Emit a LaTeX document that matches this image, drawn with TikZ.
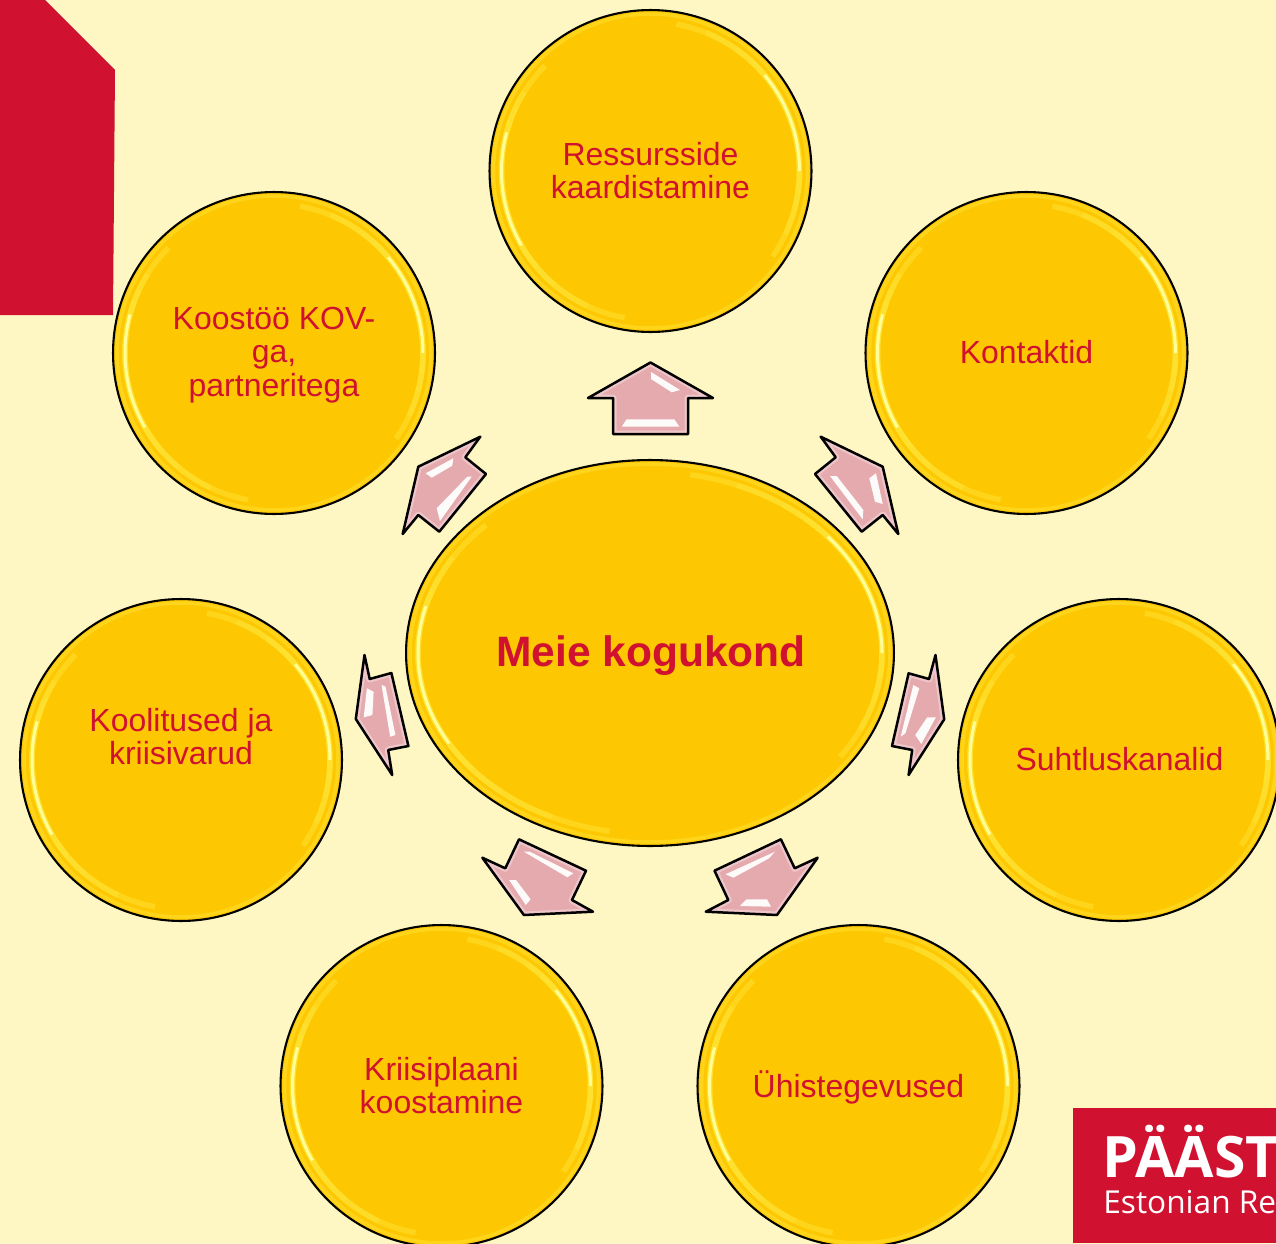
\documentclass[tikz,border=0pt]{standalone}
\usepackage{fontspec}
\setmainfont{Liberation Sans}
\newfontfamily\logofont{Open Sans}
\usepackage{tikz}
\usetikzlibrary{shapes.geometric}
\definecolor{page_c}{RGB}{255,247,195}
\definecolor{ball_c}{RGB}{253,200,2}
\definecolor{rim_c}{RGB}{255,226,50}
\definecolor{shine_c}{RGB}{255,254,150}
\definecolor{red_c}{RGB}{208,17,47}
\definecolor{tip_c}{RGB}{229,170,174}
\definecolor{tipedge_c}{RGB}{245,215,218}
% rim light of a ball: node, x radius, y radius (in px)
\newcommand{\rimlight}[3]{
	\draw[rimband] (#1.center) ellipse ({#2-4} and {#3-4});
	\foreach \from/\to/\look in {100/225/rimglow, 115/212/rimglow, 130/205/rimglow, 140/200/rimglow, 150/195/rimshine, -80/35/rimglow, -68/25/rimglow, -55/15/rimglow, -48/8/rimglow, -40/0/rimshine} {
		\draw[\look] (#1.center) ++(\from:{#2-12} and {#3-12}) arc[start angle=\from,end angle=\to,x radius=#2-12,y radius=#3-12];
	}
}
% block arrow with a pale inner edge: closed path
\newcommand{\blockarrow}[1]{
	\fill[tip_c] #1;
	\begin{scope}
		\clip #1;
		\draw[tipedge] #1;
	\end{scope}
	\draw[tip] #1;
}
\begin{document}
\begin{tikzpicture}[
			x=0.02cm, y=-0.02cm,
			ball/.style = {circle, draw=black, fill=ball_c, line width=0.042cm, minimum size=6.44cm, inner sep=0pt},
			ballmid/.style = {ball, ellipse, minimum width=9.76cm, minimum height=7.72cm},
			balltext/.style = {text=red_c, align=center, font=\fontsize{18.2}{19}\selectfont},
			midtext/.style = {text=red_c, font=\fontsize{24.2}{26}\selectfont\bfseries},
			tip/.style = {draw=black, line width=0.05cm, line join=round},
			tipedge/.style = {draw=tipedge_c, line width=0.14cm, line join=round, opacity=0.6},
			gleam/.style = {fill=white, opacity=0.95},
			rimband/.style = {draw=rim_c, line width=0.07cm, opacity=0.5},
			rimglow/.style = {draw=rim_c, line width=0.11cm, opacity=0.5},
			rimshine/.style = {draw=shine_c, line width=0.06cm},
			]
			\clip (0,0) rectangle (1276,1244);
			\fill[page_c] (0,0) rectangle (1276,1244);
			% corners
			\fill[red_c] (0,0) -- (45,0) -- (115,70) -- (113,315) -- (0,315) -- cycle;
			\fill[red_c] (1073,1108) rectangle (1276,1243);
			\node[anchor=base west, inner sep=0pt, text=white, font=\logofont\fontsize{32.5}{32.5}\selectfont\bfseries] (logo1) at (1102,1177) {PÄÄST};
			\node[anchor=base west, inner sep=0pt, text=white, font=\logofont\fontsize{18}{18}\selectfont] (logo2) at (1103,1213) {Estonian Re};
			% balls
			\node[ballmid] (kogukond) at (650,653) {};
			\node[ball] (ressursid) at (650.5,171) {};
			\node[ball] (kontaktid) at (1026.5,353) {};
			\node[ball] (suhtlus) at (1119,760) {};
			\node[ball] (yhistegevus) at (858.5,1086) {};
			\node[ball] (kriisiplaan) at (441.5,1086) {};
			\node[ball] (koolitused) at (181,760) {};
			\node[ball] (koostoo) at (274,353) {};
			% rims
			\rimlight{kogukond}{244}{193}
			\rimlight{ressursid}{161}{161}
			\rimlight{kontaktid}{161}{161}
			\rimlight{suhtlus}{161}{161}
			\rimlight{yhistegevus}{161}{161}
			\rimlight{kriisiplaan}{161}{161}
			\rimlight{koolitused}{161}{161}
			\rimlight{koostoo}{161}{161}
			% texts
			\node[midtext] (kogukond_t) at (651,656) {Meie kogukond};
			\node[balltext] (ressursid_t) at (650.5,170.5) {Ressursside\\kaardistamine};
			\node[balltext] (kontaktid_t) at (1026.5,352) {Kontaktid};
			\node[balltext] (suhtlus_t) at (1119.5,759) {Suhtluskanalid};
			\node[balltext] (yhistegevus_t) at (858.5,1087) {Ühistegevused};
			\node[balltext] (kriisiplaan_t) at (441.5,1085.5) {Kriisiplaani\\koostamine};
			\node[balltext] (koolitused_t) at (181,736.5) {Koolitused ja\\kriisivarud};
			\node[balltext] (koostoo_t) at (274,355) {Koostöö KOV-\\ga,\\partneritega};
			% block arrows
			\blockarrow{(650.5,362.5) -- (713,398) -- (688,398) -- (688,434) -- (613,434) -- (613,398) -- (588,398) -- cycle}
			\fill[gleam] (651,372) -- (680,390) -- (671.7,392.3) -- (651,379) -- cycle;
			\fill[gleam] (626.7,419.3) -- (674.3,419.3) -- (679.3,426.7) -- (621.7,426.7) -- cycle;
			\blockarrow{(820.7,436.7) -- (882.7,466.7) -- (898.3,534) -- (882.7,515) -- (861.7,531.7) -- (815,474) -- (835.7,457.3) -- cycle}
			\fill[gleam] (830,476) -- (836.7,476) -- (863.3,510) -- (862.7,519.3) -- cycle;
			\fill[gleam] (869.3,478.3) -- (876,473.3) -- (882.7,504) -- (875,501.7) -- cycle;
			\blockarrow{(908.6,673.3) -- (929,679) -- (935.5,655) -- (944.2,719.3) -- (908.6,775) -- (912.2,750) -- (892,746) -- cycle}
			\fill[gleam] (913.3,685) -- (919.3,688.3) -- (905.4,733.3) -- (900.7,736.7) -- cycle;
			\fill[gleam] (927.2,717.3) -- (935.9,717.3) -- (921.3,744) -- (915.3,735) -- cycle;
			\blockarrow{(780.9,839.3) -- (794.7,868.3) -- (817.7,857.7) -- (777,915) -- (705.8,911.7) -- (728.3,900) -- (714.5,870.7) -- cycle}
			\fill[gleam] (725.5,874.3) -- (775,851.7) -- (769,858.3) -- (733.4,877.7) -- cycle;
			\fill[gleam] (746.5,899.3) -- (767,899.3) -- (771,906.7) -- (740,906) -- cycle;
			\blockarrow{(519,839.3) -- (586,870.7) -- (572,900) -- (593,911.7) -- (523.9,915) -- (482.3,857.7) -- (505.3,868.3) -- cycle}
			\fill[gleam] (523.9,851.7) -- (529.8,851.7) -- (573.3,873.3) -- (567.4,877.3) -- cycle;
			\fill[gleam] (509.2,880) -- (516,880) -- (530.6,899.3) -- (525.8,905) -- cycle;
			\blockarrow{(364.5,655) -- (369.7,679) -- (391.4,673) -- (408.4,746) -- (388.2,750) -- (392.2,775) -- (355.8,719) -- cycle}
			\fill[gleam] (366.9,688.3) -- (373.6,691.7) -- (372.4,715) -- (363.7,717.3) -- cycle;
			\fill[gleam] (381.5,685) -- (385.5,686.7) -- (395.4,735) -- (390.2,736.7) -- cycle;
			\blockarrow{(480.3,436.7) -- (418.3,466.7) -- (402.7,534) -- (418.3,515) -- (439.3,531.7) -- (486,474) -- (465.3,457.3) -- cycle}
			\fill[gleam] (425.7,473.3) -- (453.3,458.3) -- (452.3,465.7) -- (431.7,477.7) -- cycle;
			\fill[gleam] (467.3,476.7) -- (471.7,476.7) -- (440,521) -- (436.7,508.3) -- cycle;
		\end{tikzpicture}
\end{document}
